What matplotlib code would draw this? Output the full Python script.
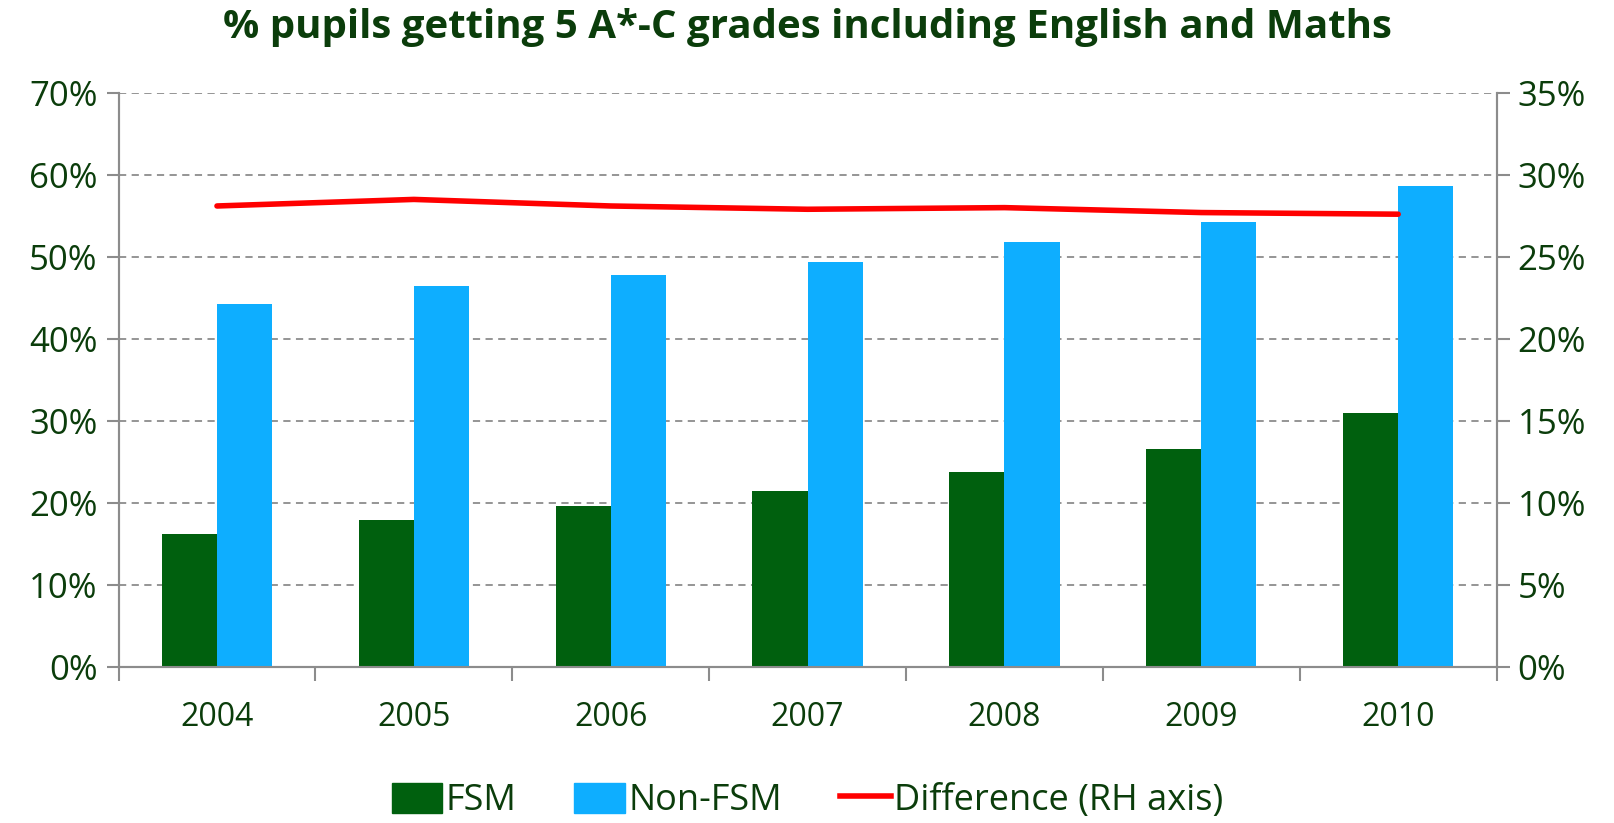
import matplotlib
matplotlib.use("Agg")
import matplotlib.pyplot as plt
import numpy as np
from matplotlib.ticker import FuncFormatter, FixedLocator
from matplotlib.patches import Patch
from matplotlib.lines import Line2D

years = ["2004", "2005", "2006", "2007", "2008", "2009", "2010"]
fsm = [16.2, 17.9, 19.7, 21.5, 23.8, 26.6, 31.0]
non_fsm = [44.3, 46.4, 47.8, 49.4, 51.8, 54.3, 58.6]
difference = [28.1, 28.5, 28.1, 27.9, 28.0, 27.7, 27.6]

left_ticks = [0, 10, 20, 30, 40, 50, 60, 70]
right_ticks = [0, 5, 10, 15, 20, 25, 30, 35]

GREEN = "#00600E"
BLUE = "#0EAEFF"
RED = "#FF0000"
TEXT = "#0B3D0B"
GRID = "#8C8C8C"

plt.rcParams['font.family'] = ['Open Sans', 'DejaVu Sans']

fig = plt.figure(figsize=(16.15, 8.23), dpi=100)
ax = fig.add_axes([0.0734, 0.189, 0.8533, 0.6984])
ax2 = ax.twinx()

x = np.arange(len(years))
w = 0.28
ax.bar(x - w / 2, fsm, width=w, color=GREEN, zorder=3)
ax.bar(x + w / 2, non_fsm, width=w, color=BLUE, zorder=3)
ax2.plot(x, difference, color=RED, lw=4, solid_capstyle='round', zorder=4)

ax.set_xlim(-0.5, len(years) - 0.5)
ax.set_ylim(0, 70)
ax2.set_ylim(0, 35)

ax.yaxis.set_major_locator(FixedLocator(left_ticks))
ax2.yaxis.set_major_locator(FixedLocator(right_ticks))
fmt = FuncFormatter(lambda v, p: f"{v:.0f}%")
ax.yaxis.set_major_formatter(fmt)
ax2.yaxis.set_major_formatter(fmt)

ax.set_xticks(x)
ax.set_xticklabels(years)
ax.xaxis.set_minor_locator(FixedLocator(np.arange(-0.5, len(years), 1.0)))
ax.tick_params(axis='x', which='major', length=0, pad=24, labelsize=23, labelcolor=TEXT)
ax.tick_params(axis='x', which='minor', length=10, width=1.5, color=GRID, direction='out')
ax.tick_params(axis='y', length=9, width=1.5, color=GRID, direction='out', pad=6,
               labelsize=25, labelcolor=TEXT)
ax2.tick_params(axis='y', length=9, width=1.5, color=GRID, direction='out', pad=6,
                labelsize=25, labelcolor=TEXT)

ax.yaxis.grid(True, linestyle=(0, (4, 3)), color=GRID, lw=1.3, zorder=0)
ax.set_axisbelow(True)

for a in (ax, ax2):
    a.spines['top'].set_visible(False)
    for s in ('left', 'right', 'bottom'):
        a.spines[s].set_color(GRID)
        a.spines[s].set_linewidth(1.5)

fig.suptitle("% pupils getting 5 A*-C grades including English and Maths",
             x=0.5, y=0.99, fontsize=29, fontweight='bold', color=TEXT)

handles = [Patch(color=GREEN, label="FSM"),
           Patch(color=BLUE, label="Non-FSM"),
           Line2D([0], [0], color=RED, lw=4, label="Difference (RH axis)")]
leg = fig.legend(handles=handles, loc='center', bbox_to_anchor=(0.5, 0.027), ncol=3,
                 frameon=False, fontsize=26, handlelength=1.4, handleheight=0.9,
                 handletextpad=0.1, columnspacing=1.6)
for t in leg.get_texts():
    t.set_color(TEXT)

fig.savefig("out.png", dpi=100)
